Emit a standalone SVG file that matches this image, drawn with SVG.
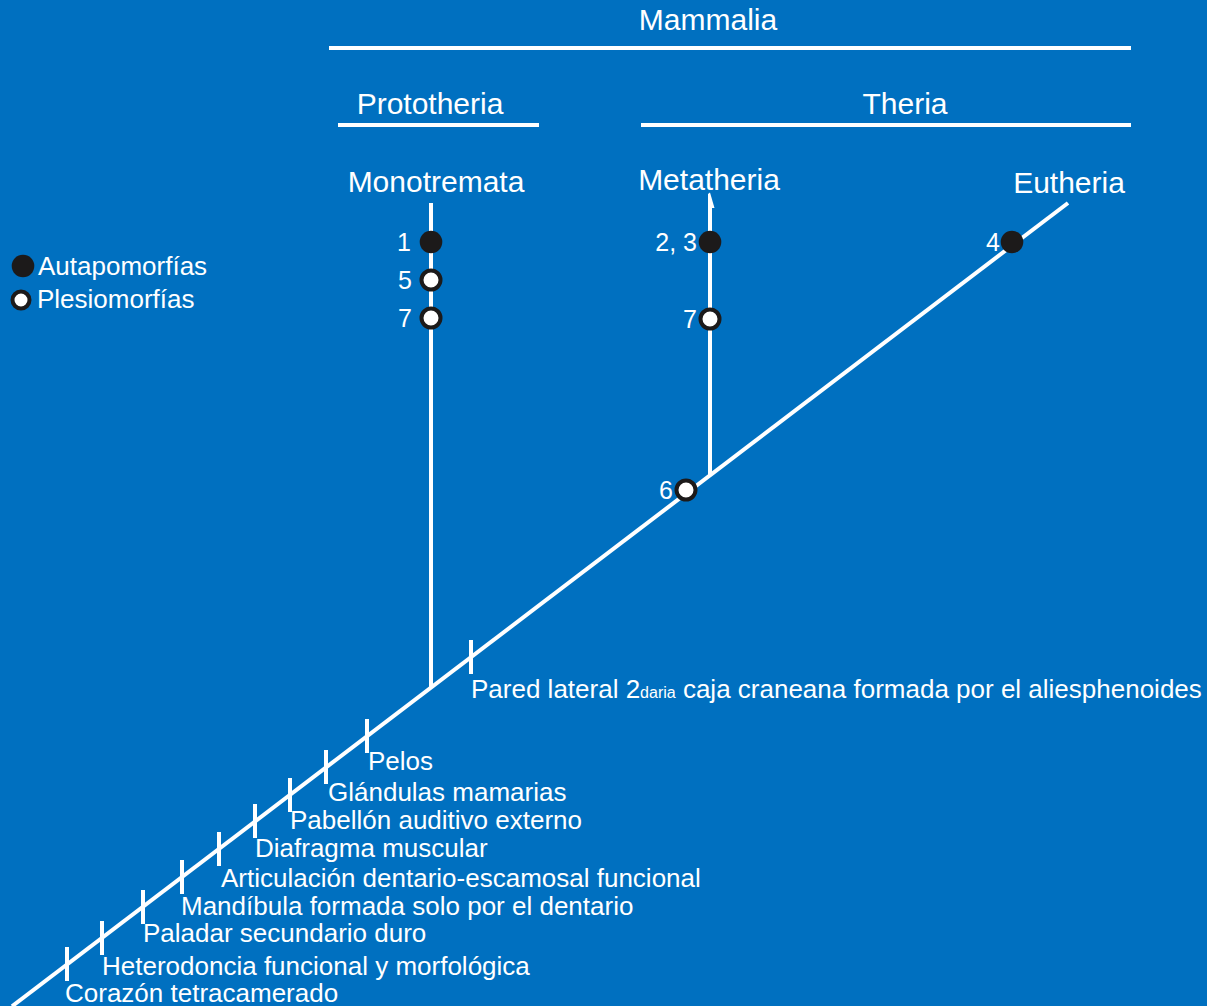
<svg xmlns="http://www.w3.org/2000/svg" width="1207" height="1006" viewBox="0 0 1207 1006">
<style>
text{font-family:"Liberation Sans",Arial,sans-serif;fill:#ffffff}
.t{font-size:30px}
.l{font-size:26px}
.n{font-size:25px}
.w{stroke:#ffffff;stroke-width:4;fill:none}
.a{fill:#1c1a1a}
.p{fill:#ffffff;stroke:#1c1a1a;stroke-width:4}
</style>
<rect width="1207" height="1006" fill="#0070c0"/>
<g id="headers">
<text class="t" x="708" y="30" text-anchor="middle">Mammalia</text>
<text class="t" x="430" y="114" text-anchor="middle">Prototheria</text>
<text class="t" x="905" y="114" text-anchor="middle">Theria</text>
<line class="w" x1="329" y1="48" x2="1131" y2="48"/>
<line class="w" x1="338" y1="125" x2="539" y2="125"/>
<line class="w" x1="641" y1="125" x2="1131" y2="125"/>
</g>
<g id="legend">
<circle class="a" cx="23" cy="266" r="11.3"/>
<text class="l" x="38" y="275">Autapomorfías</text>
<circle class="p" cx="21" cy="300" r="8.5" stroke-width="5"/>
<text class="l" x="37" y="308">Plesiomorfías</text>
</g>
<g id="connectors">
<line class="w" x1="12" y1="1006.3" x2="1068" y2="203"/>
<line class="w" x1="431" y1="203" x2="431" y2="687"/>
<line class="w" x1="710" y1="200" x2="710" y2="475"/>
<path d="M708 194 L710 192.5 L714.5 208 L708 208 Z" fill="#ffffff"/>
<g class="w">
<line x1="67" y1="947" x2="67" y2="981"/>
<line x1="102" y1="921" x2="102" y2="955"/>
<line x1="143" y1="890" x2="143" y2="924"/>
<line x1="182" y1="860" x2="182" y2="894"/>
<line x1="219" y1="832" x2="219" y2="866"/>
<line x1="255" y1="804" x2="255" y2="838"/>
<line x1="290" y1="778" x2="290" y2="812"/>
<line x1="326" y1="750" x2="326" y2="784"/>
<line x1="367" y1="719" x2="367" y2="753"/>
<line x1="471" y1="640" x2="471" y2="674"/>
</g>
</g>
<g id="monotremata">
<text class="t" x="436" y="192" text-anchor="middle">Monotremata</text>
<circle class="a" cx="431" cy="242" r="11.3"/>
<text class="n" x="411" y="251" text-anchor="end">1</text>
<circle class="p" cx="431" cy="280" r="9.5"/>
<text class="n" x="412" y="289" text-anchor="end">5</text>
<circle class="p" cx="431" cy="318" r="9.5"/>
<text class="n" x="412" y="327" text-anchor="end">7</text>
</g>
<g id="metatheria">
<text class="t" x="709" y="190" text-anchor="middle">Metatheria</text>
<circle class="a" cx="710" cy="242" r="11.3"/>
<text class="n" x="697" y="251" text-anchor="end">2, 3</text>
<circle class="p" cx="710" cy="319" r="9.5"/>
<text class="n" x="697" y="328" text-anchor="end">7</text>
</g>
<g id="node6">
<circle class="p" cx="686" cy="490" r="9.5"/>
<text class="n" x="673" y="499" text-anchor="end">6</text>
</g>
<g id="eutheria">
<text class="t" x="1069" y="193" text-anchor="middle">Eutheria</text>
<circle class="a" cx="1012" cy="242" r="11.3"/>
<text class="n" x="1000" y="251" text-anchor="end">4</text>
</g>
<g id="characters">
<text class="l" x="65" y="1002">Corazón tetracamerado</text>
<text class="l" x="102" y="975">Heterodoncia funcional y morfológica</text>
<text class="l" x="143" y="942">Paladar secundario duro</text>
<text class="l" x="181" y="915">Mandíbula formada solo por el dentario</text>
<text class="l" x="221" y="887">Articulación dentario-escamosal funcional</text>
<text class="l" x="255" y="857">Diafragma muscular</text>
<text class="l" x="290" y="829">Pabellón auditivo externo</text>
<text class="l" x="328" y="801">Glándulas mamarias</text>
<text class="l" x="368" y="770">Pelos</text>
<text class="l" x="471" y="698">Pared lateral 2<tspan font-size="16">daria</tspan> caja craneana formada por el aliesphenoides</text>
</g>
</svg>
